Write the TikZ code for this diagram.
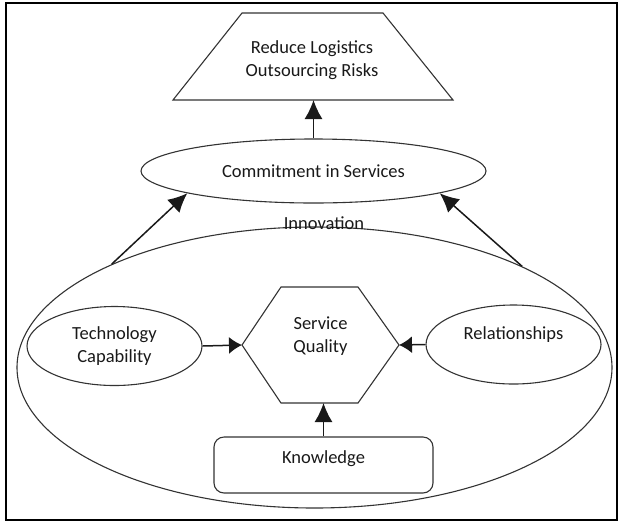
\documentclass[tikz,border=0pt]{standalone}
\usepackage{fontspec}
\setmainfont{Carlito}
\usetikzlibrary{arrows.meta,shapes.geometric}
\begin{document}
\begin{tikzpicture}[x=1pt,y=-1pt,
  shp/.style={draw=black!80, line width=1.1pt},
  ell/.style={shp, ellipse, inner sep=0pt},
  txt/.style={font=\fontsize{18.5}{23.5}\selectfont, text=black!90, align=center},
  conn/.style={draw=black!90, line width=1.5pt, -{Latex[length=19pt,width=18pt]}},
  sconn/.style={draw=black!90, line width=1.5pt, -{Latex[length=13pt,width=17pt]}},
]
\useasboundingbox (0,0) rectangle (618,523);
\draw[line width=2pt] (6,3) rectangle (617,520);

% top trapezoid
\draw[shp] (242,13) -- (383,13) -- (453,100) -- (173,100) -- cycle;
\node[txt] (risk) at (312,60) {Reduce Logistics\\Outsourcing Risks};
\coordinate (riskb) at (313.5,100);

% commitment
\node[ell, minimum width=345pt, minimum height=64pt, txt] (commit) at (313.5,171) {Commitment in Services};

% innovation big ellipse
\node[ell, minimum width=595pt, minimum height=281pt] (innov) at (314.5,367.5) {};
\node[txt, anchor=base] (innovlbl) at (324,229.5) {Innovation};

% technology capability
\node[ell, minimum width=175pt, minimum height=79pt, txt] (tech) at (114.5,346) {Technology\\Capability};

% relationships
\node[ell, minimum width=175pt, minimum height=79pt] (rel) at (513.5,344.5) {};
\node[txt] (rellbl) at (513.5,335) {Relationships};

% service quality hexagon
\draw[shp] (281,287) -- (358,287) -- (399,345) -- (358,403) -- (281,403) -- (242,345) -- cycle;
\coordinate (hexL) at (242,345);
\coordinate (hexR) at (399,345);
\coordinate (hexB) at (323.5,403);
\node[txt] (sq) at (320.5,336) {Service\\Quality};

% knowledge
\node[shp, rectangle, rounded corners=10pt, minimum width=219pt, minimum height=56pt] (know) at (323.5,465) {};
\node[txt] (knowlbl) at (323.5,459) {Knowledge};

% connectors
\draw[conn] (commit.north) -- (riskb);
\draw[conn] (innov.153.7) -- (commit.190);
\draw[conn] (innov.26.3) -- (commit.-10);
\draw[conn] (know.north) -- (hexB);
\draw[sconn] (tech.east) -- (hexL);
\draw[sconn] (rel.west) -- (hexR);
\end{tikzpicture}
\end{document}
